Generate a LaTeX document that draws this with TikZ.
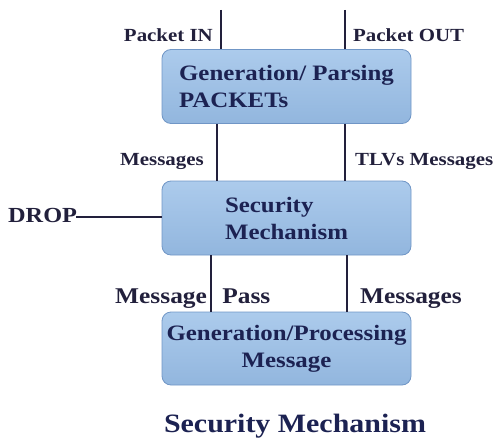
\documentclass[tikz,border=0pt]{standalone}
\usepackage{fontspec}
\setmainfont{Liberation Serif}[FakeStretch=1.13]
\usepackage{xcolor}
\usetikzlibrary{calc}
\definecolor{smnavy}{RGB}{28,34,82}
\definecolor{smline}{RGB}{34,32,60}
\definecolor{smfilltop}{RGB}{172,203,236}
\definecolor{smfillbot}{RGB}{146,182,222}
\definecolor{smborder}{RGB}{112,150,198}
\tikzset{
  sm box/.style={
    rectangle,
    rounded corners=9pt,
    minimum width=249pt,
    minimum height=74pt,
    draw=smborder,
    thick,
    top color=smfilltop,
    bottom color=smfillbot,
    text=smnavy,
    font=\fontsize{22}{27}\selectfont\bfseries,
    inner sep=2pt,
  },
  sm label/.style={
    text=smline,
    font=\fontsize{18.5}{22}\selectfont\bfseries,
    inner sep=0pt,
  },
  sm big label/.style={
    sm label,
    font=\fontsize{22.5}{26}\selectfont\bfseries,
  },
  sm line/.style={line width=2.8pt, draw=smline},
}

\begin{document}
\begin{tikzpicture}[x=1pt, y=-1pt]
  \useasboundingbox (0,0) rectangle (497,441);
  % the three blocks
  \node[sm box, align=left] (gen) at (286.5,86.5) {Generation/ Parsing\\PACKETs};
  \node[sm box, align=left] (sec) at (286.5,218) {Security\\Mechanism};
  \node[sm box, align=center, minimum height=73pt] (proc) at (286.5,348.5)
    {Generation/Processing\\Message};
  % free ends
  \coordinate (pktin) at (221,10);
  \coordinate (pktout) at (345,10);
  \coordinate (drop) at (76,217);
  % connectors
  \draw[sm line] (pktin) -- (pktin |- gen.north);
  \draw[sm line] (pktout) -- (pktout |- gen.north);
  \draw[sm line] (gen.south -| 217,0) -- (sec.north -| 217,0);
  \draw[sm line] (gen.south -| 345,0) -- (sec.north -| 345,0);
  \draw[sm line] (sec.south -| 211,0) -- (proc.north -| 211,0);
  \draw[sm line] (sec.south -| 347,0) -- (proc.north -| 347,0);
  \draw[sm line] (drop) -- (drop -| sec.west);
  % labels
  \node[sm label, anchor=base east] (lin) at (213,42) {Packet IN};
  \node[sm label, anchor=base west] (lout) at (353,42) {Packet OUT};
  \node[sm label, anchor=base east] (lmsg) at (204,165) {Messages};
  \node[sm label, anchor=base west] (ltlv) at (355,165) {TLVs Messages};
  \node[sm big label, font=\fontsize{21.5}{25}\selectfont\bfseries,
    anchor=base west] (ldrop) at (8,222) {DROP};
  \node[sm big label, anchor=base west] (lpass) at (115,303) {Message\hspace{9pt} Pass};
  \node[sm big label, anchor=base west] (lmsg2) at (360,303) {Messages};
  % caption
  \node[sm label, text=smnavy, font=\fontsize{26.5}{30}\selectfont\bfseries,
    anchor=base] (title) at (295,432) {Security Mechanism};
\end{tikzpicture}
\end{document}
